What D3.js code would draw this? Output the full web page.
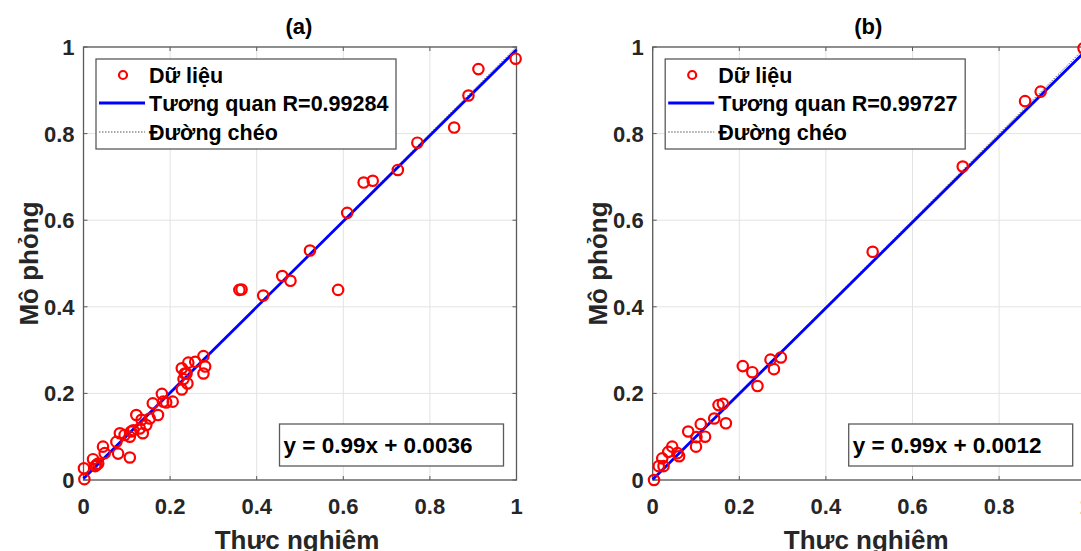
<!doctype html>
<html lang="vi">
<head>
<meta charset="UTF-8" />
<title>Tương quan mô phỏng - thực nghiệm</title>
<script src="https://cdn.jsdelivr.net/npm/d3@7"></script>
<style>
  html, body { margin: 0; padding: 0; background: #fff; }
  svg { display: block; font-family: "Liberation Sans", Arial, sans-serif; font-weight: bold; }
</style>
</head>
<body>
<svg id="chart" width="1081" height="551"></svg>
<script>
// dữ liệu
const ticks = [0, 0.2, 0.4, 0.6, 0.8, 1];
const tickLabels = ["0", "0.2", "0.4", "0.6", "0.8", "1"];
const legendLabels = ["Dữ liệu", "Tương quan", "Đường chéo"];

const aX = [0.002, 0.001, 0.022, 0.030, 0.027, 0.034, 0.045, 0.049, 0.080, 0.107,
  0.076, 0.084, 0.095, 0.110, 0.107, 0.115, 0.122, 0.134, 0.130, 0.137,
  0.145, 0.153, 0.172, 0.160, 0.184, 0.191, 0.206, 0.181, 0.227, 0.240,
  0.231, 0.238, 0.227, 0.242, 0.258, 0.281, 0.277, 0.277, 0.234, 0.360,
  0.365, 0.415, 0.459, 0.478, 0.523, 0.588, 0.609, 0.647, 0.668, 0.726,
  0.771, 0.856, 0.889, 0.912, 0.998];
const aY = [0.002, 0.027, 0.048, 0.035, 0.032, 0.038, 0.077, 0.062, 0.061, 0.052,
  0.088, 0.108, 0.104, 0.112, 0.100, 0.115, 0.150, 0.139, 0.119, 0.108,
  0.127, 0.142, 0.150, 0.177, 0.181, 0.179, 0.181, 0.199, 0.209, 0.223,
  0.233, 0.246, 0.258, 0.271, 0.273, 0.262, 0.246, 0.286, 0.246, 0.439,
  0.440, 0.426, 0.471, 0.460, 0.530, 0.439, 0.617, 0.687, 0.691, 0.716,
  0.779, 0.814, 0.888, 0.949, 0.973];

const bX = [0.003, 0.014, 0.025, 0.022, 0.036, 0.045, 0.057, 0.061, 0.082, 0.100,
  0.101, 0.121, 0.111, 0.142, 0.152, 0.162, 0.169, 0.208, 0.230, 0.242,
  0.272, 0.280, 0.296, 0.508, 0.716, 0.860, 0.896, 0.995];
const bY = [0.000, 0.032, 0.032, 0.050, 0.065, 0.077, 0.062, 0.055, 0.112, 0.077,
  0.099, 0.100, 0.129, 0.142, 0.173, 0.176, 0.131, 0.263, 0.249, 0.217,
  0.278, 0.256, 0.283, 0.527, 0.724, 0.875, 0.897, 0.997];

const panels = [
  { title: "(a)", xs: aX, ys: aY, R: "0.99284", slope: 0.99, icpt: 0.0036, eq: "y = 0.99x + 0.0036", left: 83.5 },
  { title: "(b)", xs: bX, ys: bY, R: "0.99727", slope: 0.99, icpt: 0.0012, eq: "y = 0.99x + 0.0012", left: 652.7 }
];

const svg = d3.select("#chart");
const topY = 47, size = 433;
const axisColor = "#5a5a5a", gridColor = "#e3e3e3", textColor = "#262626";

panels.forEach(p => {
  const x = d3.scaleLinear().domain([0, 1]).range([p.left, p.left + size]);
  const y = d3.scaleLinear().domain([0, 1]).range([topY + size, topY]);
  const g = svg.append("g");

  // lưới
  g.append("g").selectAll("line").data(ticks).join("line")
    .attr("x1", d => x(d)).attr("x2", d => x(d)).attr("y1", topY).attr("y2", topY + size)
    .attr("stroke", gridColor).attr("stroke-width", 1);
  g.append("g").selectAll("line").data(ticks).join("line")
    .attr("y1", d => y(d)).attr("y2", d => y(d)).attr("x1", p.left).attr("x2", p.left + size)
    .attr("stroke", gridColor).attr("stroke-width", 1);

  // khung + vạch chia
  g.append("rect").attr("x", p.left).attr("y", topY).attr("width", size).attr("height", size)
    .attr("fill", "none").attr("stroke", axisColor).attr("stroke-width", 1.3);
  const tl = 4;
  ticks.forEach(t => {
    g.append("line").attr("x1", x(t)).attr("x2", x(t)).attr("y1", topY + size).attr("y2", topY + size - tl).attr("stroke", axisColor);
    g.append("line").attr("x1", x(t)).attr("x2", x(t)).attr("y1", topY).attr("y2", topY + tl).attr("stroke", axisColor);
    g.append("line").attr("y1", y(t)).attr("y2", y(t)).attr("x1", p.left).attr("x2", p.left + tl).attr("stroke", axisColor);
    g.append("line").attr("y1", y(t)).attr("y2", y(t)).attr("x1", p.left + size).attr("x2", p.left + size - tl).attr("stroke", axisColor);
  });

  // nhãn vạch
  g.append("g").selectAll("text").data(ticks).join("text")
    .attr("x", d => x(d)).attr("y", topY + size + 34)
    .attr("text-anchor", "middle").attr("font-size", 22).attr("fill", textColor)
    .text((d, i) => tickLabels[i]);
  g.append("g").selectAll("text").data(ticks).join("text")
    .attr("x", p.left - 9).attr("y", d => y(d) + 8)
    .attr("text-anchor", "end").attr("font-size", 22).attr("fill", textColor)
    .text((d, i) => tickLabels[i]);

  // tiêu đề, nhãn trục
  g.append("text").attr("x", p.left + size / 2 - 1).attr("y", 34)
    .attr("text-anchor", "middle").attr("font-size", 22).attr("fill", "#000").text(p.title);
  g.append("text").attr("x", p.left + size / 2 - 3).attr("y", topY + size + 69)
    .attr("text-anchor", "middle").attr("font-size", 26).attr("fill", textColor).text("Thực nghiệm");
  g.append("text").attr("transform", `translate(${p.left - 46},${topY + size / 2}) rotate(-90)`)
    .attr("text-anchor", "middle").attr("font-size", 26).attr("fill", textColor).text("Mô phỏng");

  // vẽ trong vùng trục
  const clipId = "clip" + p.title.replace(/\W/g, "");
  svg.append("clipPath").attr("id", clipId).append("rect")
    .attr("x", p.left - 8).attr("y", topY - 8).attr("width", size + 16).attr("height", size + 16);
  const plot = g.append("g").attr("clip-path", `url(#${clipId})`);

  plot.append("line").attr("x1", x(0)).attr("y1", y(0)).attr("x2", x(1)).attr("y2", y(1))
    .attr("stroke", "#555").attr("stroke-width", 1).attr("stroke-dasharray", "1.5,1.5");
  plot.append("line").attr("x1", x(0)).attr("y1", y(p.icpt)).attr("x2", x(1)).attr("y2", y(p.slope + p.icpt))
    .attr("stroke", "#0000ff").attr("stroke-width", 2.8);
  plot.append("g").selectAll("circle").data(p.xs).join("circle")
    .attr("cx", d => x(d)).attr("cy", (d, i) => y(p.ys[i])).attr("r", 5.2)
    .attr("fill", "none").attr("stroke", "#ff0000").attr("stroke-width", 2.2);

  // chú giải
  const lx = p.left + 12.5, ly = 59;
  g.append("rect").attr("x", lx).attr("y", ly).attr("width", 300).attr("height", 90)
    .attr("fill", "#fff").attr("stroke", axisColor).attr("stroke-width", 1.3);
  const rows = [ly + 16, ly + 44, ly + 73];
  g.append("circle").attr("cx", lx + 27).attr("cy", rows[0]).attr("r", 4)
    .attr("fill", "none").attr("stroke", "#ff0000").attr("stroke-width", 2.2);
  g.append("line").attr("x1", lx + 3).attr("x2", lx + 49).attr("y1", rows[1]).attr("y2", rows[1])
    .attr("stroke", "#0000ff").attr("stroke-width", 2.8);
  g.append("line").attr("x1", lx + 3).attr("x2", lx + 49).attr("y1", rows[2]).attr("y2", rows[2])
    .attr("stroke", "#555").attr("stroke-width", 1).attr("stroke-dasharray", "1.5,1.5");
  const labels = [legendLabels[0], `${legendLabels[1]} R=${p.R}`, legendLabels[2]];
  labels.forEach((t, i) => {
    g.append("text").attr("x", lx + 53).attr("y", rows[i] + 7.5)
      .attr("font-size", 21.5).attr("fill", "#000").text(t);
  });

  // phương trình
  const ex = p.left + 196, ey = 424;
  g.append("rect").attr("x", ex).attr("y", ey).attr("width", 224).attr("height", 42)
    .attr("fill", "#fff").attr("stroke", axisColor).attr("stroke-width", 1.3);
  g.append("text").attr("x", ex + 4).attr("y", ey + 29)
    .attr("font-size", 22.5).attr("fill", "#000").text(p.eq);
});
</script>
</body>
</html>
